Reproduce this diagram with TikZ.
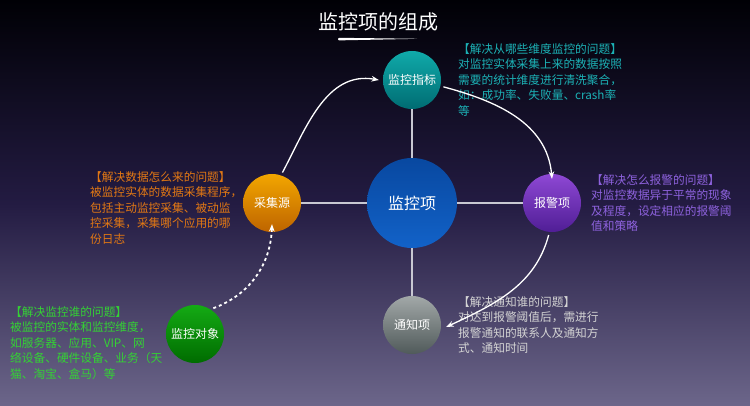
\documentclass[tikz,border=0pt]{standalone}
\usepackage{fontspec}
\setmainfont{Noto Sans CJK SC}
\usetikzlibrary{positioning,arrows.meta}
\definecolor{bgtop}{RGB}{0,0,5}
\definecolor{bgmid}{RGB}{35,27,66}
\definecolor{bgbot}{RGB}{108,102,138}
\definecolor{spokegray}{RGB}{200,200,210}
\definecolor{tealtxt}{RGB}{28,178,182}
\definecolor{orangetxt}{RGB}{226,120,20}
\definecolor{purpletxt}{RGB}{142,98,222}
\definecolor{greentxt}{RGB}{52,210,52}
\definecolor{graytxt}{RGB}{212,212,212}
\tikzset{
  % --- circles ---------------------------------------------------------------
  hub/.style={circle,minimum size=90pt,inner sep=0pt,text=white,
              font=\fontsize{16}{16}\selectfont,
              top color={rgb,255:red,8;green,72;blue,160},
              bottom color={rgb,255:red,18;green,98;blue,200}},
  part/.style={circle,minimum size=58pt,inner sep=0pt,text=white,
               font=\fontsize{12}{12}\selectfont},
  % --- links -----------------------------------------------------------------
  spoke/.style={draw=spokegray,line width=2pt},
  flow/.style={-{Stealth[length=2.6mm,width=2mm]},white,line width=1.3pt,
               shorten <=3pt},
  flowdash/.style={flow,line width=1.8pt,dash pattern=on 3pt off 3pt},
  % --- side notes --------------------------------------------------------------
  note/.style={anchor=north west,inner sep=0pt,align=left,
               font=\fontsize{11.7}{15.6}\selectfont},
}
\begin{document}
\begin{tikzpicture}[x=1pt,y=-1pt]
  \shade[top color=bgtop,bottom color=bgbot,middle color=bgmid]
        (0,0) rectangle (750,406);
  \useasboundingbox (0,0) rectangle (750,406);

  \node[text=white,font=\fontsize{20}{20}\selectfont] (title) at (378,22)
       {监控项的组成};
  \fill[white,rounded corners=1pt] (338,37.8) -- (418,38.8) -- (338,40.4) -- cycle;

  \node[hub] (hub) at (412,203) {监控项};
  \node[part,top color={rgb,255:red,16;green,170;blue,170},
        bottom color={rgb,255:red,0;green,108;blue,114}] (metric) at (412,80) {监控指标};
  \node[part,top color={rgb,255:red,142;green,72;blue,212},
        bottom color={rgb,255:red,80;green,30;blue,150}] (alarm) at (552,203) {报警项};
  \node[part,top color={rgb,255:red,162;green,168;blue,168},
        bottom color={rgb,255:red,80;green,90;blue,90}] (notify) at (412,325) {通知项};
  \node[part,top color={rgb,255:red,242;green,166;blue,0},
        bottom color={rgb,255:red,190;green,100;blue,0}] (source) at (272,203) {采集源};
  \node[part,top color={rgb,255:red,20;green,170;blue,20},
        bottom color={rgb,255:red,0;green,108;blue,0}] (target) at (195,334) {监控对象};

  \foreach \p in {metric,alarm,notify,source}
    \draw[spoke] (hub) -- (\p);

  % {x}{y}{colour}{lines}
  \foreach \x/\y/\c/\txt in {%
      458/43/tealtxt/{【解决从哪些维度监控的问题】\\对监控实体采集上来的数据按照\\需要的统计维度进行清洗聚合，\\如：成功率、失败量、crash率\\等},
      90/171/orangetxt/{【解决数据怎么来的问题】\\被监控实体的数据采集程序，\\包括主动监控采集、被动监\\控采集，采集哪个应用的哪\\份日志},
      591/174/purpletxt/{【解决怎么报警的问题】\\对监控数据异于平常的现象\\及程度，设定相应的报警阈\\值和策略},
      10/306/greentxt/{【解决监控谁的问题】\\被监控的实体和监控维度，\\如服务器、应用、VIP、网\\络设备、硬件设备、业务（天\\猫、淘宝、盒马）等},
      458/296/graytxt/{【解决通知谁的问题】\\对达到报警阈值后，需进行\\报警通知的联系人及通知方\\式、通知时间}}
  {
    \node[note,text=\c] at (\x,\y) {\txt};
  }

  % flow between the parts
  \draw[flow] (source.72) to[out=62,in=170] ([xshift=-4pt]metric.west);
  \draw[flow] (metric.-12) to[out=-15,in=95] ([yshift=-5pt]alarm.north);
  \draw[flow] (alarm.-95) to[out=-105,in=25] ([xshift=5pt,yshift=-2pt]notify.east);
  \draw[flowdash] (target.58) to[out=20,in=-92] ([yshift=8pt]source.south);
\end{tikzpicture}
\end{document}
